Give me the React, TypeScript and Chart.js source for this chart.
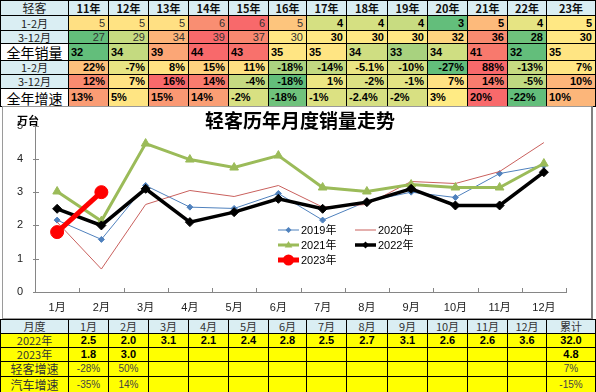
import React, { useEffect, useRef } from 'react';
import { Chart, registerables } from 'chart.js';

Chart.register(...registerables);

// ---------- Data ----------
const years = ['11年', '12年', '13年', '14年', '15年', '16年', '17年', '18年', '19年', '20年', '21年', '22年', '23年'];
const sales12 = [5, 5, 5, 6, 6, 5, 4, 4, 4, 3, 5, 4, 5];
const sales312 = [27, 29, 34, 39, 37, 30, 30, 30, 30, 32, 36, 28, 30];
const salesAll = [32, 34, 39, 44, 43, 35, 35, 34, 33, 34, 41, 32, 35];
const growth12 = ['22%', '-7%', '8%', '15%', '11%', '-18%', '-14%', '-5.1%', '-10%', '-27%', '88%', '-13%', '7%'];
const growth312 = ['12%', '7%', '16%', '14%', '-4%', '-18%', '1%', '-2%', '-1%', '7%', '14%', '-5%', '10%'];
const growthAll = ['13%', '5%', '15%', '14%', '-2%', '-18%', '-1%', '-2.4%', '-2%', '3%', '20%', '-22%', '10%'];

const months = ['1月', '2月', '3月', '4月', '5月', '6月', '7月', '8月', '9月', '10月', '11月', '12月'];
const s2019 = [2.16, 1.58, 3.2, 2.55, 2.51, 2.96, 2.16, 2.72, 3.0, 2.84, 3.56, 3.8];
const s2020 = [2.1, 0.69, 2.63, 3.05, 2.87, 3.2, 2.55, 2.63, 3.32, 3.26, 3.62, 4.49];
const s2021 = [3.02, 2.13, 4.46, 3.98, 3.74, 4.1, 3.14, 3.02, 3.23, 3.14, 3.14, 3.86];
const s2022 = [2.5, 2.0, 3.1, 2.1, 2.4, 2.8, 2.5, 2.7, 3.1, 2.6, 2.6, 3.6];
const s2023 = [1.8, 3.0];
const yTicks = [0, 1, 2, 3, 4, 5];
const chartTitle = '轻客历年月度销量走势';
const unitLabel = '万台';

const total2022 = '32.0';
const total2023 = '4.8';
const growthLight = ['-28%', '50%', '', '', '', '', '', '', '', '', '', '', '7%'];
const growthAuto = ['-35%', '14%', '', '', '', '', '', '', '', '', '', '', '-15%'];

// ---------- Styles ----------
const colC12 = ['#FFE083', '#FFE383', '#FFE083', '#F98E72', '#F8696B', '#FDC57D', '#D5E082', '#D5E082', '#C8DC81', '#63BE7B', '#FDBA7B', '#E6E483', '#FFE884'];
const colC312 = ['#63BE7B', '#C7DB81', '#FCB479', '#F8696B', '#F98870', '#FFE884', '#FFE984', '#FFE884', '#FFE884', '#FED480', '#F98B70', '#6FC27C', '#FFE884'];
const colCAll = ['#63BE7B', '#C4DA80', '#FBA676', '#F8696B', '#F8716C', '#FFE583', '#FFE583', '#CFDE82', '#A8D27F', '#CFDE82', '#F8796D', '#63BE7B', '#FFE583'];
const colG12 = ['#FDC07C', '#E9E583', '#FFE383', '#FED380', '#FEE082', '#ABD380', '#C3D981', '#EBE583', '#D6DF82', '#63BE7B', '#F8696B', '#C6DB81', '#FFE583'];
const colG312 = ['#F98B70', '#FFE283', '#F8696B', '#F97C6E', '#C5DA81', '#63BE7B', '#EDE683', '#DCE182', '#E3E383', '#FFE283', '#F97C6E', '#BFD981', '#FDB57A'];
const colGAll = ['#FA9C74', '#FFE583', '#FA9873', '#FA9E74', '#D8E082', '#6FC27C', '#DCE182', '#D6DF82', '#D8E082', '#FFEB84', '#F8696B', '#63BE7B', '#FCB67A'];

const colEdges = [0, 68, 108, 148, 188, 228, 268, 306, 346, 387, 427, 467, 507, 546, 595];
const topRowEdges = [0, 15, 30, 43, 60, 74, 88, 106];
const bottomRowEdges = [319, 333, 347, 361, 376, 392];

const LAT = '"Liberation Sans", Arial, "Noto Sans CJK SC", sans-serif';
const CJK = '"Noto Sans CJK SC", "Liberation Sans", sans-serif';
const HEAD_BG = '#DAEEF3';
const YELLOW = '#FFFF00';

function cell(
  key: string,
  c: number,
  r: number,
  rows: number[],
  bg: string,
  text: string,
  opts: { align?: string; font?: string; color?: string; pad?: number } = {}
) {
  const x0 = colEdges[c];
  const x1 = colEdges[c + 1];
  const y0 = rows[r];
  const y1 = rows[r + 1];
  return (
    <div
      key={key}
      style={{
        position: 'absolute',
        left: x0,
        top: y0,
        width: x1 - x0 + 1,
        height: y1 - y0 + 1,
        boxSizing: 'border-box',
        border: '1px solid #000',
        background: bg,
        display: 'flex',
        alignItems: 'center',
        justifyContent: opts.align || 'center',
        padding: `0 ${opts.pad ?? 3}px`,
        font: opts.font || `11px ${LAT}`,
        color: opts.color || '#000',
        whiteSpace: 'nowrap',
        overflow: 'hidden',
        lineHeight: 1,
      }}
    >
      {text}
    </div>
  );
}

const datasetsCfg = [
  { label: '2019年', data: s2019, color: '#4F81BD', width: 1, style: 'rectRot', radius: 3, order: 4 },
  { label: '2020年', data: s2020, color: '#C9605D', width: 1, style: 'circle', radius: 0, order: 3 },
  { label: '2021年', data: s2021, color: '#9BBB59', width: 3, style: 'triangle', radius: 5, order: 2 },
  { label: '2022年', data: s2022, color: '#000000', width: 3.5, style: 'rectRot', radius: 4.5, order: 1 },
  { label: '2023年', data: s2023, color: '#FF0000', width: 5, style: 'circle', radius: 6.5, order: 0 },
];

const legendPos = [
  { x: 275, y: 123 },
  { x: 352, y: 123 },
  { x: 275, y: 138 },
  { x: 352, y: 138 },
  { x: 275, y: 153 },
];

const overlayPlugin = {
  id: 'overlay',
  afterDraw(chart: any) {
    const ctx = chart.ctx as CanvasRenderingContext2D;
    const xs = chart.scales.x;
    const ys = chart.scales.y;
    const area = chart.chartArea;
    ctx.save();
    // inside tick marks
    ctx.strokeStyle = '#868686';
    ctx.lineWidth = 1;
    for (let i = 0; i <= months.length; i++) {
      const px = Math.round(xs.getPixelForValue(i - 0.5)) + 0.5;
      ctx.beginPath();
      ctx.moveTo(px, area.bottom);
      ctx.lineTo(px, area.bottom - 4);
      ctx.stroke();
    }
    yTicks.forEach((v) => {
      const py = Math.round(ys.getPixelForValue(v)) + 0.5;
      ctx.beginPath();
      ctx.moveTo(area.left - 2, py);
      ctx.lineTo(area.left + 4, py);
      ctx.stroke();
    });
    // title
    ctx.fillStyle = '#000';
    ctx.font = `bold 19px ${CJK}`;
    ctx.textAlign = 'center';
    ctx.textBaseline = 'middle';
    ctx.fillText(chartTitle, 297, 14);
    // unit
    ctx.font = `bold 11px ${CJK}`;
    ctx.textAlign = 'left';
    ctx.fillText(unitLabel, 14, 14);
    // legend
    ctx.font = `11px ${LAT}`;
    datasetsCfg.forEach((d, i) => {
      const p = legendPos[i];
      const meta = chart.getDatasetMeta(i);
      ctx.strokeStyle = d.color;
      ctx.lineWidth = d.width;
      ctx.beginPath();
      ctx.moveTo(p.x, p.y);
      ctx.lineTo(p.x + 21, p.y);
      ctx.stroke();
      if (d.radius > 0 && meta) {
        const r = Math.max(2.5, d.radius - 1);
        (Chart as any).helpers?.drawPoint
          ? (Chart as any).helpers.drawPoint(ctx, { pointStyle: d.style, radius: r, rotation: 0, borderWidth: 1 }, p.x + 10.5, p.y)
          : null;
      }
      ctx.fillStyle = '#000';
      ctx.textAlign = 'left';
      ctx.textBaseline = 'middle';
      ctx.fillText(d.label, p.x + 23, p.y + 0.5);
    });
    ctx.restore();
  },
};

function drawLegendPoint(ctx: CanvasRenderingContext2D, style: string, r: number, x: number, y: number, color: string) {
  ctx.fillStyle = color;
  ctx.strokeStyle = color;
  ctx.lineWidth = 1;
  ctx.beginPath();
  if (style === 'circle') {
    ctx.arc(x, y, r, 0, Math.PI * 2);
  } else if (style === 'triangle') {
    ctx.moveTo(x, y - r);
    ctx.lineTo(x + r * 0.95, y + r * 0.6);
    ctx.lineTo(x - r * 0.95, y + r * 0.6);
    ctx.closePath();
  } else {
    ctx.moveTo(x, y - r);
    ctx.lineTo(x + r, y);
    ctx.lineTo(x, y + r);
    ctx.lineTo(x - r, y);
    ctx.closePath();
  }
  ctx.fill();
}

const legendPointPlugin = {
  id: 'legendPoints',
  afterDraw(chart: any) {
    const ctx = chart.ctx as CanvasRenderingContext2D;
    ctx.save();
    datasetsCfg.forEach((d, i) => {
      if (d.radius > 0) {
        const p = legendPos[i];
        drawLegendPoint(ctx, d.style, Math.max(3, d.radius - 1), p.x + 10.5, p.y, d.color);
      }
    });
    ctx.restore();
  },
};

export default function App() {
  const canvasRef = useRef<HTMLCanvasElement | null>(null);

  useEffect(() => {
    if (!canvasRef.current) return;
    const chart = new Chart(canvasRef.current, {
      type: 'line',
      data: {
        labels: months,
        datasets: datasetsCfg.map((d) => ({
          label: d.label,
          data: d.data,
          borderColor: d.color,
          backgroundColor: d.color,
          borderWidth: d.width,
          pointStyle: d.style as any,
          pointRadius: d.radius,
          pointBorderWidth: 1,
          pointBackgroundColor: d.color,
          pointBorderColor: d.color,
          tension: 0,
          order: d.order,
          fill: false,
        })),
      },
      options: {
        responsive: false,
        animation: false,
        devicePixelRatio: 1,
        layout: { padding: { left: 0, right: 24, top: 18, bottom: 0 } },
        plugins: {
          legend: { display: false },
          title: { display: false },
          tooltip: { enabled: false },
        },
        scales: {
          x: {
            type: 'category',
            offset: true,
            grid: { display: false, drawTicks: false, offset: true },
            border: { display: true, color: '#868686', width: 1 },
            ticks: { color: '#222', font: { size: 11, family: LAT }, padding: 9, maxRotation: 0, autoSkip: false },
            afterFit: (s: any) => {
              s.height = 25;
            },
          },
          y: {
            min: 0,
            max: 5,
            grid: { display: false, drawTicks: false },
            border: { display: true, color: '#868686', width: 1 },
            ticks: { stepSize: 1, color: '#222', font: { size: 11, family: LAT }, padding: 12 },
            afterFit: (s: any) => {
              s.width = 32;
            },
          },
        },
      },
      plugins: [overlayPlugin, legendPointPlugin],
    });
    return () => chart.destroy();
  }, []);

  const els: any[] = [];
  // ---- top table ----
  els.push(cell('h0', 0, 0, topRowEdges, HEAD_BG, '轻客', { font: `12px ${CJK}`, color: '#222' }));
  years.forEach((y, i) => els.push(cell('h' + (i + 1), i + 1, 0, topRowEdges, HEAD_BG, y, { font: `bold 11px ${CJK}`, color: '#111' })));

  const topRows = [
    { label: '1-2月', vals: sales12.map(String), cols: colC12, big: false, left: false, boldFrom: 6 },
    { label: '3-12月', vals: sales312.map(String), cols: colC312, big: false, left: false, boldFrom: 6 },
    { label: '全年销量', vals: salesAll.map(String), cols: colCAll, big: true, left: true, boldFrom: 0 },
    { label: '1-2月', vals: growth12, cols: colG12, big: false, left: false, boldFrom: 0 },
    { label: '3-12月', vals: growth312, cols: colG312, big: false, left: false, boldFrom: 0 },
    { label: '全年增速', vals: growthAll, cols: colGAll, big: true, left: true, boldFrom: 0 },
  ];
  topRows.forEach((row, ri) => {
    const r = ri + 1;
    els.push(
      cell('l' + r, 0, r, topRowEdges, row.big ? '#FFFFFF' : HEAD_BG, row.label, {
        font: row.big ? `14px ${CJK}` : `11px ${CJK}`,
        color: row.big ? '#000' : '#222',
      })
    );
    row.vals.forEach((v, i) =>
      els.push(
        cell('c' + r + '_' + i, i + 1, r, topRowEdges, row.cols[i], v, {
          align: row.left ? 'flex-start' : 'flex-end',
          font: `${i >= row.boldFrom ? 'bold ' : ''}11px ${LAT}`,
          color: i >= row.boldFrom ? '#000' : '#333',
          pad: row.left ? 2 : 3,
        })
      )
    );
  });

  // ---- bottom table ----
  const bottomHead = [...months, '累计'];
  const row2022 = [...s2022.map((v) => v.toFixed(1)), total2022];
  const row2023 = [...months.map((_, i) => (i < s2023.length ? s2023[i].toFixed(1) : '')), total2023];
  els.push(cell('bh0', 0, 0, bottomRowEdges, HEAD_BG, '月度', { font: `11px ${CJK}`, color: '#333' }));
  bottomHead.forEach((m, i) => els.push(cell('bh' + (i + 1), i + 1, 0, bottomRowEdges, HEAD_BG, m, { font: `11px ${CJK}`, color: '#333' })));
  const bottomRows = [
    { label: '2022年', vals: row2022, bold: true },
    { label: '2023年', vals: row2023, bold: true },
    { label: '轻客增速', vals: growthLight, bold: false },
    { label: '汽车增速', vals: growthAuto, bold: false },
  ];
  bottomRows.forEach((row, ri) => {
    const r = ri + 1;
    els.push(cell('bl' + r, 0, r, bottomRowEdges, YELLOW, row.label, { font: `${ri >= 2 ? 12 : 11}px ${CJK}`, color: '#333' }));
    row.vals.forEach((v, i) =>
      els.push(
        cell('b' + r + '_' + i, i + 1, r, bottomRowEdges, YELLOW, v, {
          font: row.bold ? `bold 11px ${LAT}` : `10px ${LAT}`,
          color: row.bold ? '#000' : '#444',
        })
      )
    );
  });

  return (
    <div style={{ position: 'absolute', left: 0, top: 0, width: 596, height: 392, background: '#fff', overflow: 'hidden' }}>
      {els}
      <div
        style={{
          position: 'absolute',
          left: 2,
          top: 106,
          width: 590,
          height: 213,
          boxSizing: 'border-box',
          border: '1px solid #9A9A9A',
        }}
      />
      <div style={{ position: 'absolute', left: 591, top: 106, width: 2, height: 213, background: '#808080' }} />
      <canvas
        ref={canvasRef}
        width={587}
        height={210}
        style={{ position: 'absolute', left: 3, top: 107, width: 587, height: 210 }}
      />
    </div>
  );
}
